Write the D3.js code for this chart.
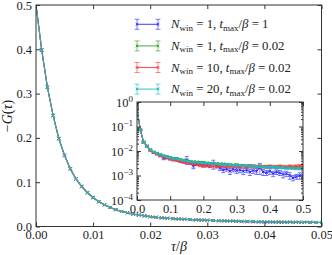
<!DOCTYPE html>
<html>
<head>
<meta charset="utf-8">
<script src="https://cdn.jsdelivr.net/npm/d3@7"></script>
<style>
  body { margin: 0; background: #fff; }
  svg text { font-family: "Liberation Serif", "DejaVu Serif", serif; fill: #222; }
</style>
</head>
<body>
<div id="chart"></div>
<script>
// main panel: tau/beta grid and -G(tau)
const mainTau = [0,0.001,0.002,0.003,0.004,0.005,0.006,0.007,0.008,0.009,0.010,0.011,0.012,0.013,0.014,0.015,0.016,0.017,0.018,0.019,0.020,0.021,0.022,0.023,0.024,0.025,0.026,0.027,0.028,0.029,0.030,0.031,0.032,0.033,0.034,0.035,0.036,0.037,0.038,0.039,0.040,0.041,0.042,0.043,0.044,0.045,0.046,0.047,0.048,0.049,0.050]
const mainG = [0.500,0.398,0.314,0.250,0.198,0.160,0.130,0.107,0.090,0.076,0.065,0.056,0.049,0.043,0.038,0.034,0.031,0.028,0.026,0.024,0.022,0.0208,0.0196,0.0186,0.0178,0.0170,0.0163,0.0157,0.0151,0.0146,0.0141,0.0136,0.0132,0.0128,0.0124,0.0121,0.0118,0.0115,0.0113,0.0110,0.0108,0.0106,0.0104,0.0102,0.0100,0.0098,0.0097,0.0095,0.0094,0.0092,0.0091]
const mainBlueG = [0.500,0.399,0.315,0.251,0.199,0.161,0.131,0.108,0.091,0.077,0.066,0.056,0.049,0.043,0.038,0.034,0.031,0.028,0.026,0.024,0.022,0.0207,0.0195,0.0185,0.0176,0.0168,0.0161,0.0155,0.0150,0.0144,0.0139,0.0134,0.0130,0.0126,0.0121,0.0116,0.0110,0.0106,0.0103,0.0100,0.0097,0.0096,0.0094,0.0093,0.0092,0.0093,0.0094,0.0093,0.0092,0.0091,0.0090]

// inset panel (log scale)
const insetTau = [0,0.01,0.02,0.03,0.04,0.05,0.06,0.07,0.08,0.09,0.10,0.11,0.12,0.13,0.14,0.15,0.16,0.17,0.18,0.19,0.20,0.21,0.22,0.23,0.24,0.25,0.26,0.27,0.28,0.29,0.30,0.31,0.32,0.33,0.34,0.35,0.36,0.37,0.38,0.39,0.40,0.41,0.42,0.43,0.44,0.45,0.46,0.47,0.48,0.49,0.50]
const blueG = [0.5,0.073,0.023,0.0160,0.0110,0.0088,0.0080,0.0066,0.0052,0.0055,0.0050,0.0046,0.0047,0.0040,0.0038,0.0044,0.0033,0.0024,0.0031,0.0030,0.0027,0.0028,0.0026,0.0030,0.0025,0.0020,0.0017,0.0019,0.0015,0.0018,0.0016,0.0017,0.0015,0.0017,0.0014,0.0016,0.0015,0.0021,0.0014,0.0013,0.0015,0.0012,0.0014,0.0013,0.0011,0.0012,0.0010,0.0008,0.0009,0.0010,0.0011]
const blueErr = [0.01,0.004,0.002,0.001,0.0008,0.0007,0.0007,0.0008,0.0008,0.0007,0.0007,0.0006,0.0006,0.0006,0.0006,0.0016,0.0005,0.0005,0.0005,0.0005,0.0005,0.0005,0.0005,0.0012,0.0005,0.0004,0.0004,0.0004,0.0004,0.0004,0.0004,0.0004,0.0004,0.0004,0.0004,0.0004,0.0004,0.0010,0.0004,0.0003,0.0004,0.0003,0.0003,0.0003,0.0003,0.0003,0.0003,0.0002,0.0002,0.0003,0.0003]
const greenG = [0.5,0.072,0.023,0.0162,0.0114,0.0093,0.0081,0.0073,0.0066,0.0060,0.0055,0.0051,0.0049,0.0045,0.0043,0.0041,0.0038,0.0037,0.0036,0.0035,0.0035,0.0033,0.0032,0.0031,0.0031,0.0030,0.0030,0.0029,0.0028,0.0027,0.0028,0.0026,0.0026,0.0025,0.0026,0.0025,0.0024,0.0024,0.0023,0.0024,0.0023,0.0022,0.0023,0.0022,0.0021,0.0022,0.0021,0.0020,0.0021,0.0020,0.0020]
const greenErr = [0.004,0.002,0.001,0.0006,0.0004,0.0004,0.0003,0.0003,0.0003,0.0003,0.0003,0.0003,0.0003,0.0003,0.0003,0.0003,0.0002,0.0002,0.0002,0.0002,0.0002,0.0002,0.0002,0.0002,0.0002,0.0002,0.0002,0.0002,0.0002,0.0002,0.0002,0.0002,0.0002,0.0002,0.0002,0.0002,0.0002,0.0002,0.0002,0.0002,0.0002,0.0002,0.0002,0.0002,0.0002,0.0002,0.0002,0.0002,0.0002,0.0002,0.0002]
const redG = [0.5,0.071,0.023,0.0150,0.0104,0.0085,0.0072,0.0063,0.0056,0.0051,0.0046,0.0043,0.0040,0.0037,0.0035,0.0034,0.0032,0.0030,0.0028,0.0026,0.0025,0.0025,0.0024,0.0025,0.0024,0.0024,0.0025,0.0024,0.0023,0.0024,0.0023,0.0023,0.0024,0.0022,0.0023,0.0024,0.0023,0.0024,0.0023,0.0022,0.0024,0.0023,0.0022,0.0024,0.0023,0.0022,0.0024,0.0023,0.0024,0.0025,0.0026]
const redErr = [0.004,0.002,0.001,0.0006,0.0004,0.0004,0.0003,0.0003,0.0003,0.0003,0.0003,0.0003,0.0003,0.0003,0.0003,0.0003,0.0003,0.0003,0.0003,0.0003,0.0003,0.0003,0.0003,0.0003,0.0003,0.0003,0.0003,0.0003,0.0003,0.0003,0.0003,0.0003,0.0003,0.0003,0.0003,0.0003,0.0003,0.0003,0.0003,0.0003,0.0003,0.0003,0.0003,0.0003,0.0003,0.0003,0.0003,0.0003,0.0003,0.0003,0.0003]
const cyanG = [0.5,0.072,0.023,0.0158,0.0112,0.0091,0.0079,0.0071,0.0063,0.0058,0.0052,0.0049,0.0046,0.0044,0.0041,0.0039,0.0037,0.0035,0.0035,0.0033,0.0032,0.0032,0.0031,0.0030,0.0030,0.0029,0.0028,0.0028,0.0027,0.0026,0.0026,0.0026,0.0025,0.0025,0.0024,0.0024,0.0023,0.0023,0.0023,0.0022,0.0022,0.0022,0.0021,0.0021,0.0021,0.0020,0.0020,0.0020,0.0019,0.0019,0.0018]
const cyanErr = [0.004,0.002,0.001,0.0006,0.0004,0.0004,0.0003,0.0003,0.0003,0.0002,0.0002,0.0002,0.0002,0.0002,0.0002,0.0002,0.0002,0.0002,0.0002,0.0002,0.0002,0.0002,0.0002,0.0002,0.0002,0.0002,0.0002,0.0002,0.0002,0.0002,0.0002,0.0002,0.0002,0.0002,0.0002,0.0002,0.0002,0.0002,0.0002,0.0002,0.0002,0.0002,0.0002,0.0002,0.0002,0.0002,0.0002,0.0002,0.0002,0.0002,0.0002]

const legendN = ['1', '1', '10', '20']
const legendT = ['1', '0.02', '0.02', '0.02']
const colors = ['#2a2aff', '#33a033', '#ff3333', '#22bcbc']

const mainXTicks = [0, 0.01, 0.02, 0.03, 0.04, 0.05]
const mainYTicks = [0, 0.1, 0.2, 0.3, 0.4, 0.5]
const insetXTicks = [0, 0.1, 0.2, 0.3, 0.4, 0.5]
const insetYTicks = [1e-4, 1e-3, 1e-2, 1e-1, 1]
const insetExp = ['−4', '−3', '−2', '−1', '0']

const series = [
  {main: mainBlueG, g: blueG, err: blueErr},
  {main: mainG, g: greenG, err: greenErr},
  {main: mainG, g: redG, err: redErr},
  {main: mainG, g: cyanG, err: cyanErr}
]

const width = 332, height = 255
const tickFont = 12.5

const svg = d3.select('#chart').append('svg')
  .attr('width', width)
  .attr('height', height)

const x = d3.scaleLinear().domain([0, 0.05]).range([36, 321.5])
const y = d3.scaleLinear().domain([0, 0.5]).range([226.5, 5])

const x2 = d3.scaleLinear().domain([0, 0.5]).range([137, 303])
const y2 = d3.scaleLog().domain([1e-4, 1]).range([200, 102])

const defs = svg.append('defs')
defs.append('clipPath').attr('id', 'clipMain').append('rect')
  .attr('x', 36).attr('y', 5).attr('width', 285.5).attr('height', 221.5)
defs.append('clipPath').attr('id', 'clipInset').append('rect')
  .attr('x', 137).attr('y', 102).attr('width', 166).attr('height', 98)

function xMark(g, cx, cy, col, s) {
  g.append('path')
    .attr('d', `M${cx - s},${cy - s}L${cx + s},${cy + s}M${cx - s},${cy + s}L${cx + s},${cy - s}`)
    .attr('stroke', col).attr('stroke-width', 1)
}

// main curves
const mainG_ = svg.append('g').attr('clip-path', 'url(#clipMain)')
series.forEach((s, k) => {
  const line = d3.line().x((d, i) => x(mainTau[i])).y(d => y(d))
  mainG_.append('path').datum(s.main)
    .attr('d', line).attr('fill', 'none')
    .attr('stroke', colors[k]).attr('stroke-width', 1.1).attr('stroke-opacity', 0.85)
  s.main.forEach((d, i) => {
    if (i == 0) return
    xMark(mainG_, x(mainTau[i]), y(d), colors[k], 1.5)
  })
})

// axes frame + ticks
function frameAxes(xs, ys, xt, yt, fmtX, fmtY) {
  const [x0, x1] = xs.range(), [y0, y1] = ys.range()
  svg.append('g').attr('transform', `translate(0,${y0})`)
    .call(d3.axisBottom(xs).tickValues(xt).tickSize(-4).tickPadding(4).tickFormat(fmtX))
    .call(g => g.select('.domain').remove())
  svg.append('g').attr('transform', `translate(0,${y1})`)
    .call(d3.axisTop(xs).tickValues(xt).tickSize(-4).tickFormat(''))
    .call(g => g.select('.domain').remove())
  const la = svg.append('g').attr('transform', `translate(${x0},0)`)
    .call(d3.axisLeft(ys).tickValues(yt).tickSize(-4).tickPadding(4).tickFormat(fmtY))
    .call(g => g.select('.domain').remove())
  svg.append('g').attr('transform', `translate(${x1},0)`)
    .call(d3.axisRight(ys).tickValues(yt).tickSize(-4).tickFormat(''))
    .call(g => g.select('.domain').remove())
  svg.append('rect')
    .attr('x', x0).attr('y', y1).attr('width', x1 - x0).attr('height', y0 - y1)
    .attr('fill', 'none').attr('stroke', '#333').attr('stroke-width', 1)
  return la
}

frameAxes(x, y, mainXTicks, mainYTicks, d3.format('.2f'), d3.format('.1f'))

// axis labels
svg.append('text')
  .attr('x', 179).attr('y', 251)
  .attr('text-anchor', 'middle').attr('font-size', 14)
  .html('<tspan font-style="italic">τ</tspan>/<tspan font-style="italic">β</tspan>')

svg.append('text')
  .attr('transform', 'translate(12,116) rotate(-90)')
  .attr('text-anchor', 'middle').attr('font-size', 14)
  .html('−<tspan font-style="italic">G</tspan>(<tspan font-style="italic">τ</tspan>)')

// legend
const legend = svg.append('g')
legendN.forEach((n, k) => {
  const ly = 24.3 + k * 21.6
  const c = colors[k]
  const lg = legend.append('g')
  lg.append('line').attr('x1', 137).attr('x2', 158).attr('y1', ly).attr('y2', ly)
    .attr('stroke', c).attr('stroke-width', 1.1).attr('stroke-opacity', 0.85)
  ;[137, 158].forEach(px => {
    lg.append('line').attr('x1', px).attr('x2', px).attr('y1', ly - 5).attr('y2', ly + 5)
      .attr('stroke', c).attr('stroke-opacity', 0.6)
    lg.append('line').attr('x1', px - 2.5).attr('x2', px + 2.5).attr('y1', ly - 5).attr('y2', ly - 5)
      .attr('stroke', c).attr('stroke-opacity', 0.6)
    lg.append('line').attr('x1', px - 2.5).attr('x2', px + 2.5).attr('y1', ly + 5).attr('y2', ly + 5)
      .attr('stroke', c).attr('stroke-opacity', 0.6)
    xMark(lg, px, ly, c, 1.3)
  })
  lg.append('text').attr('x', 171).attr('y', ly + 4).attr('font-size', 12.8)
    .html(`<tspan font-style="italic">N</tspan><tspan font-size="9" dy="2.5">win</tspan><tspan dy="-2.5"> = ${n}, </tspan><tspan font-style="italic">t</tspan><tspan font-size="9" dy="2.5">max</tspan><tspan dy="-2.5">/</tspan><tspan font-style="italic">β</tspan><tspan> = ${legendT[k]}</tspan>`)
})

// inset
svg.append('rect').attr('x', 137).attr('y', 102).attr('width', 166).attr('height', 98).attr('fill', '#fff')
const ins = svg.append('g').attr('clip-path', 'url(#clipInset)')
series.forEach((s, k) => {
  const c = colors[k]
  const line = d3.line().x((d, i) => x2(insetTau[i])).y(d => y2(d))
  ins.append('path').datum(s.g).attr('d', line).attr('fill', 'none')
    .attr('stroke', c).attr('stroke-width', 1.1).attr('stroke-opacity', 0.85)
  s.g.forEach((d, i) => {
    const px = x2(insetTau[i])
    const lo = y2(Math.max(d - s.err[i], 1e-5)), hi = y2(d + s.err[i])
    ins.append('line').attr('x1', px).attr('x2', px).attr('y1', lo).attr('y2', hi)
      .attr('stroke', c).attr('stroke-opacity', 0.6)
    ins.append('line').attr('x1', px - 2).attr('x2', px + 2).attr('y1', lo).attr('y2', lo)
      .attr('stroke', c).attr('stroke-opacity', 0.6)
    ins.append('line').attr('x1', px - 2).attr('x2', px + 2).attr('y1', hi).attr('y2', hi)
      .attr('stroke', c).attr('stroke-opacity', 0.6)
    xMark(ins, px, y2(d), c, 1.3)
  })
})

const insetAxis = frameAxes(x2, y2, insetXTicks, insetYTicks, d3.format('.1f'), () => '10')
insetAxis.selectAll('.tick text').each(function(d, i) {
  d3.select(this).append('tspan').attr('dy', -5).attr('font-size', 9).text(insetExp[i])
})
// minor log ticks
const minor = []
;[1e-4, 1e-3, 1e-2, 1e-1].forEach(dec => [2,3,4,5,6,7,8,9].forEach(m => minor.push(dec * m)))
svg.append('g').attr('transform', 'translate(137,0)')
  .call(d3.axisLeft(y2).tickValues(minor).tickSize(-2).tickFormat(''))
  .call(g => g.select('.domain').remove())
svg.append('g').attr('transform', 'translate(303,0)')
  .call(d3.axisRight(y2).tickValues(minor).tickSize(-2).tickFormat(''))
  .call(g => g.select('.domain').remove())

svg.selectAll('.tick text').attr('font-size', tickFont).attr('font-family', '"Liberation Serif", serif').attr('fill', '#222')
svg.selectAll('.tick line').attr('stroke', '#333')
</script>
</body>
</html>
